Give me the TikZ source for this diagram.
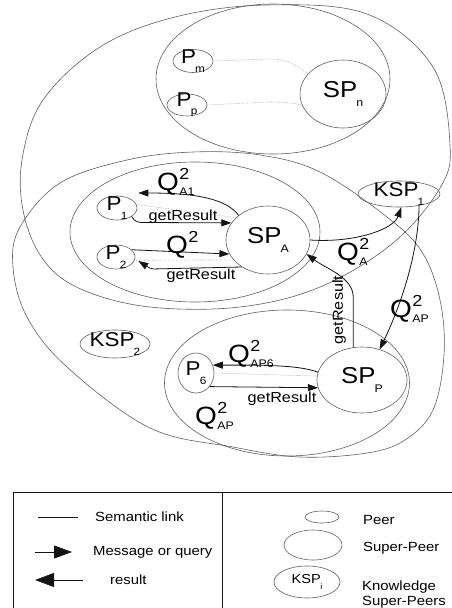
\documentclass[tikz,border=0pt]{standalone}
\usepackage{fontspec}
\setmainfont{Liberation Sans}[FakeStretch=1.12]
\definecolor{LineColor}{RGB}{95,95,95}
\definecolor{LinkColor}{RGB}{165,165,165}
\definecolor{ArrowColor}{RGB}{20,20,20}
\usetikzlibrary{positioning, arrows.meta, shapes.geometric, calc}
\newcommand{\lsub}[3][10.5]{#2\hspace{-0.04em}\raisebox{-0.42em}{\fontsize{#1}{#1}\selectfont #3}}
\newcommand{\qlab}[1]{Q\hspace{0.02em}\rlap{\raisebox{0.42em}{\fontsize{16}{16}\selectfont 2}}\raisebox{-0.2em}{\fontsize{11}{11}\selectfont #1}}
\tikzstyle{region} = [LineColor, line width=0.6pt]
\tikzstyle{cluster} = [draw=LineColor, line width=0.6pt, ellipse, inner sep=0pt]
\tikzstyle{msg} = [ArrowColor, line width=0.8pt, -{Triangle[length=10pt,width=7pt]}]
\tikzstyle{semlink} = [LinkColor, line width=0.6pt, densely dotted]
\tikzstyle{qlabel} = [anchor=base west, inner sep=0pt, font=\fontsize{25}{25}\selectfont]
\tikzstyle{reslabel} = [inner sep=0pt, font=\fontsize{14.5}{15}\selectfont]
\tikzstyle{legendtext} = [anchor=west, inner sep=0pt, font=\fontsize{13.3}{15}\selectfont]
\tikzset{
  peer/.style={cluster, label={[font=\fontsize{20}{20}\selectfont]center:#1}},
  superpeer/.style={cluster, label={[font=\fontsize{23}{23}\selectfont]center:#1}},
  kspeer/.style={cluster, label={[font=\fontsize{20}{20}\selectfont]center:#1}}
}

\begin{document}
\begin{tikzpicture}[x=1pt, y=-1pt]
  \useasboundingbox (0,0) rectangle (451,608);

  % Large overlapping regions
  \draw[region] plot[smooth cycle, tension=0.6] coordinates {(267,5) (367,14) (433,67) (450,145) (440,188) (393,243) (320,287) (240,307) (150,307) (83,290) (45,262) (24,215) (22,160) (43,100) (100,47) (175,17)};
  \draw[region] plot[smooth cycle, tension=0.6] coordinates {(193,152) (260,155) (320,172) (387,217) (422,252) (440,300) (444,355) (433,410) (405,440) (367,453) (300,457) (233,447) (150,428) (67,367) (27,317) (13,267) (20,227) (60,183) (127,160)};

  % Super-peer clusters
  \node[cluster, minimum width=234pt, minimum height=150pt] (clN) at (273,79) {};
  \node[cluster, minimum width=250pt, minimum height=140pt] (clA) at (195,232) {};
  \node[cluster, minimum width=245pt, minimum height=146pt] (clP) at (287,383) {};

  % Super-peers
  \node[superpeer={\lsub[11]{SP}{n}}, minimum width=86pt, minimum height=68pt] (spN) at (343,94) {};
  \node[superpeer={\lsub[11]{SP}{A}}, minimum width=84pt, minimum height=68pt] (spA) at (268,240) {};
  \node[superpeer={\lsub[11]{SP}{P}}, minimum width=90pt, minimum height=66pt] (spP) at (362,380) {};

  % Peers
  \node[peer={\lsub{P}{m}}, minimum width=40pt, minimum height=23pt] (pm) at (193,61) {};
  \node[peer={\lsub{P}{p}}, minimum width=40pt, minimum height=22pt] (pp) at (187,105) {};
  \node[peer={\lsub{P}{1}}, minimum width=40pt, minimum height=24pt] (p1) at (117,208) {};
  \node[peer={\lsub{P}{2}}, minimum width=38pt, minimum height=24pt] (p2) at (116,257) {};
  \node[peer={\lsub{P}{6}}, minimum width=36pt, minimum height=40pt] (p6) at (196,373) {};

  % Knowledge super-peers
  \node[kspeer={\lsub{KSP}{1}}, minimum width=82pt, minimum height=26pt] (ksp1) at (399,194) {};
  \node[kspeer={\lsub{KSP}{2}}, minimum width=70pt, minimum height=28pt] (ksp2) at (115,344) {};

  % Semantic links
  \draw[semlink] (pm.east) -- ++(55,-2) .. controls +(22,0) and +(-12,-8) .. (spN.150);
  \draw[semlink] (pp.east) -- ++(60,-3) .. controls +(15,0) and +(-8,-2) .. (spN.195);
  \draw[semlink] (p1.10) -- (spA.145);
  \draw[semlink] (p2.-10) -- (spA.210);
  \draw[semlink] (p6.east) -- (spP.175);

  % Queries and results
  \draw[msg] (spA.140) .. controls +(-12,-16) and +(60,0) .. ($(p1.east)+(1,-15)$);
  \draw[msg] (p1.-30) .. controls +(3,6) and +(-6,0) .. ($(p1.-30)+(13,6)$) -- (spA.155);
  \draw[msg] (p2.25) -- (spA.200);
  \draw[msg, rounded corners=2pt] (spA.226) -- ($(p2.east)+(16,12)$) -- ($(p2.east)+(3,4)$);
  \draw[msg] (spA.east) .. controls +(45,3) and +(-8,22) .. (ksp1.-80);
  \draw[msg] (ksp1.-30) .. controls +(-1,60) and +(12,-25) .. (spP.60);
  \draw[msg] (spP.105) -- ++(0,-50) .. controls +(0,-20) and +(20,15) .. (spA.-20);
  \draw[msg] (spP.170) .. controls +(-20,-8) and +(40,0) .. (p6.25);
  \draw[msg] (p6.-45) -- (spP.190);

  % Labels
  \node[qlabel] (qA1) at (157,190) {\qlab{A1}};
  \node[qlabel] (qP2) at (166,253) {\qlab{}};
  \node[qlabel] (qA) at (337,260) {\qlab{A}};
  \node[qlabel] (qAP) at (390,317) {\qlab{AP}};
  \node[qlabel] (qAP6) at (228,362) {\qlab{AP6}};
  \node[qlabel] (qAPb) at (195,424) {\qlab{AP}};
  \node[reslabel, anchor=base] (res1) at (183,220) {getResult};
  \node[reslabel, anchor=base] (res2) at (201,279) {getResult};
  \node[reslabel, anchor=base] (res3) at (282,402) {getResult};
  \node[reslabel, rotate=90] (res4) at (339,310) {getResult};

  % Legend
  \draw[ArrowColor, line width=1pt] (13,492) rectangle (453,615);
  \draw[ArrowColor, line width=1pt] (222,492) -- (222,615);
  \coordinate (semA) at (38,517);
  \coordinate (semB) at (78,517);
  \draw[ArrowColor, line width=0.7pt] (semA) -- (semB);
  \node[legendtext] (semT) at (95,517) {Semantic link};
  \coordinate (msgA) at (35,552);
  \coordinate (msgB) at (72,552);
  \draw[ArrowColor, line width=0.8pt, -{Triangle[length=18pt,width=13pt]}] (msgA) -- (msgB);
  \node[legendtext] (msgT) at (93,552) {Message or query};
  \coordinate (resA) at (83,580);
  \coordinate (resB) at (35,580);
  \draw[ArrowColor, line width=0.8pt, -{Triangle[length=19pt,width=14pt]}] (resA) -- (resB);
  \node[legendtext] (resT) at (110,580) {result};
  \node[cluster, minimum width=34pt, minimum height=12pt] (lgPeer) at (322,517) {};
  \node[legendtext] (lgPeerT) at (363,520) {Peer};
  \node[cluster, minimum width=58pt, minimum height=30pt] (lgSuper) at (313,545) {};
  \node[legendtext] (lgSuperT) at (363,548) {Super-Peer};
  \node[cluster, label={[font=\fontsize{13}{13}\selectfont]center:\lsub[8]{KSP}{i}}, minimum width=66pt, minimum height=32pt] (lgKsp) at (307,582) {};
  \node[legendtext, align=left] (lgKspT) at (362,595) {Knowledge\\Super-Peers};
\end{tikzpicture}
\end{document}
